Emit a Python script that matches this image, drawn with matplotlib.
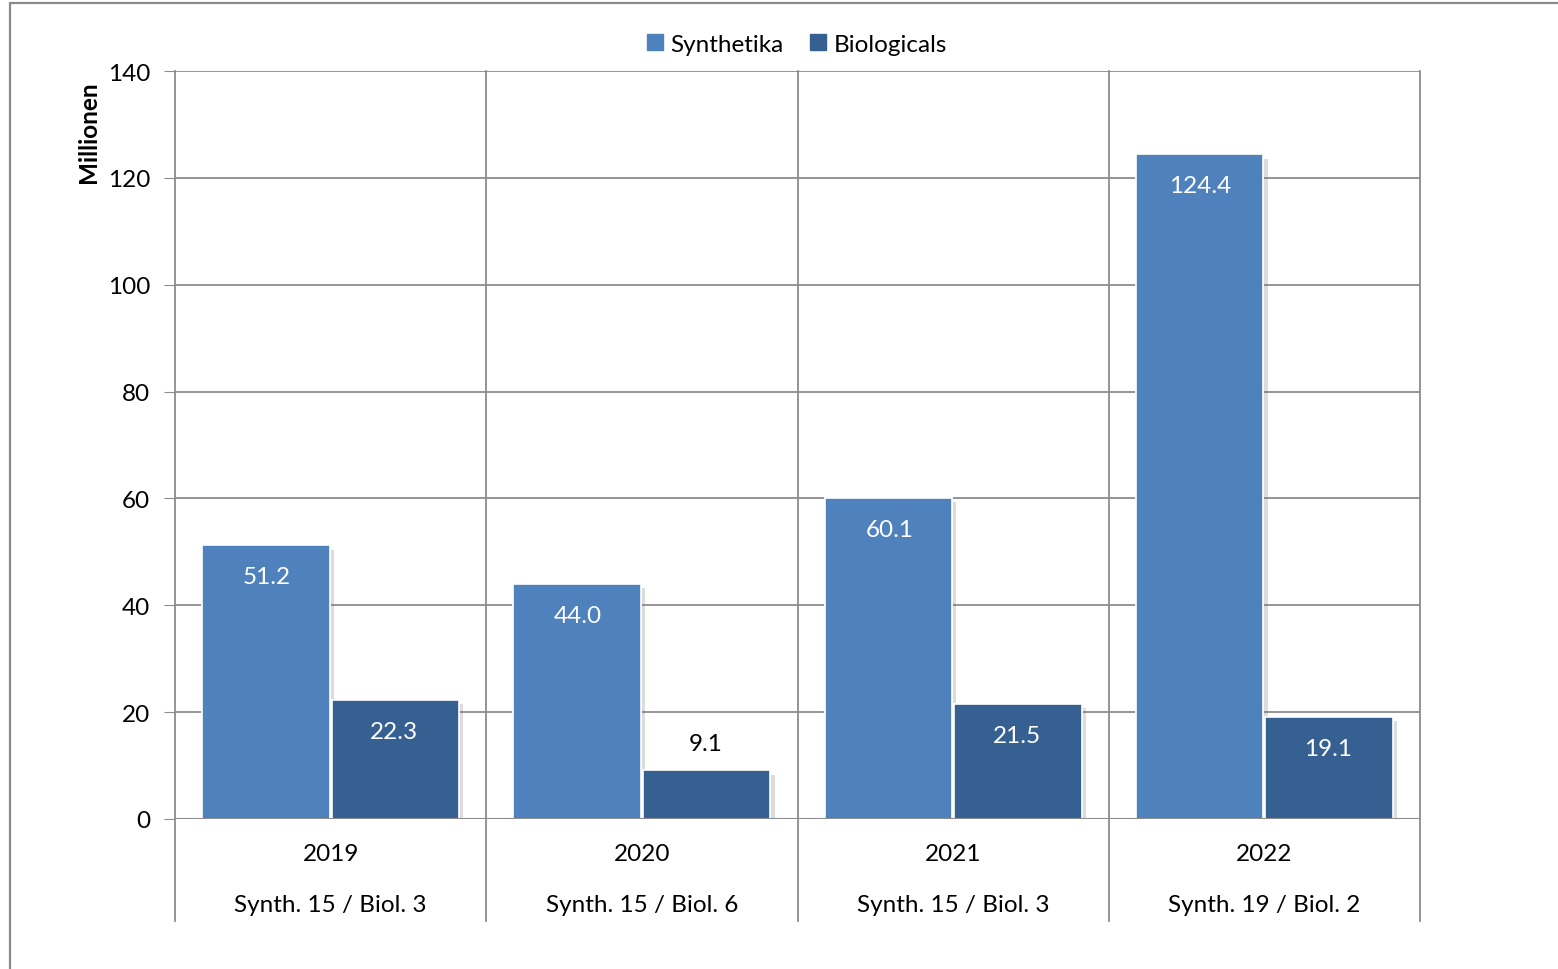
import numpy as np
import matplotlib.pyplot as plt
import matplotlib.patheffects as pe
from matplotlib.patches import Rectangle, Patch
import matplotlib.transforms as mtransforms

plt.rcParams['font.family'] = ['Lato', 'DejaVu Sans']

# Daten
years = ["2019", "2020", "2021", "2022"]
counts = ["Synth. 15 / Biol. 3", "Synth. 15 / Biol. 6",
          "Synth. 15 / Biol. 3", "Synth. 19 / Biol. 2"]
synthetika = [51.2, 44.0, 60.1, 124.4]
biologicals = [22.3, 9.1, 21.5, 19.1]

c_syn = "#4F81BD"
c_bio = "#366092"
grid_c = "#8C8C8C"
fs = 17.5

fig = plt.figure(figsize=(15.58, 9.70), dpi=100)
ax = fig.add_axes([175/1558, 1 - 820/970, (1420-175)/1558, (820-72)/970])

# Rahmen
fig.patches.append(Rectangle((10/1558, -0.05), 1.2, 1 - 4/970 + 0.05,
                             transform=fig.transFigure, fill=False,
                             edgecolor="#8A8A8A", linewidth=1.6))

x = np.arange(len(years)) + 0.5
w = 0.41
shadow = [pe.withSimplePatchShadow(offset=(3, -3), shadow_rgbFace="#777777", alpha=0.25),
          pe.Normal()]

b1 = ax.bar(x - w/2 - 0.003, synthetika, w, color=c_syn, edgecolor="white",
            linewidth=1.2, zorder=3)
b2 = ax.bar(x + w/2 + 0.003, biologicals, w, color=c_bio, edgecolor="white",
            linewidth=1.2, zorder=3)
for b in list(b1) + list(b2):
    b.set_path_effects(shadow)

# Beschriftungen
for xi, v in zip(x - w/2, synthetika):
    ax.text(xi, v - 5.9, f"{v:.1f}", ha="center", va="center", color="white",
            fontsize=fs, zorder=4)
for xi, v in zip(x + w/2, biologicals):
    if v < 15:
        ax.text(xi, v + 5.1, f"{v:.1f}", ha="center", va="center", color="black",
                fontsize=fs, zorder=4)
    else:
        ax.text(xi, v - 5.9, f"{v:.1f}", ha="center", va="center", color="white",
                fontsize=fs, zorder=4)

ax.set_xlim(0, 4)
ax.set_ylim(0, 140)
ax.set_yticks(np.arange(0, 141, 20))
ax.tick_params(axis="y", labelsize=fs, length=8, color=grid_c, pad=10)
ax.set_xticks([])
ax.yaxis.grid(True, color=grid_c, linewidth=1.3, zorder=0)
for s in ax.spines.values():
    s.set_visible(False)
ax.axhline(0, color=grid_c, linewidth=1.5, zorder=5)

# vertikale Linien, bis unter die Achse
trans = mtransforms.blended_transform_factory(ax.transData, ax.transAxes)
for xv in range(5):
    ax.plot([xv, xv], [-(922-820)/748, 1], color=grid_c, linewidth=1.3,
            transform=trans, clip_on=False, zorder=1)

for xi, yr, cnt in zip(x, years, counts):
    ax.text(xi, -(855-820)/748, yr, transform=trans, ha="center", va="center",
            fontsize=fs)
    ax.text(xi, -(906-820)/748, cnt, transform=trans, ha="center", va="center",
            fontsize=fs)

fig.text(88/1558, 1 - 132/970, "Millionen", rotation=90, ha="center", va="center",
         fontsize=fs, fontweight="bold")

handles = [Patch(color=c_syn, label="Synthetika"), Patch(color=c_bio, label="Biologicals")]
ax.legend(handles=handles, loc="center", bbox_to_anchor=(797/1558, 1 - 45/970),
          bbox_transform=fig.transFigure, ncol=2, frameon=False, fontsize=fs,
          handlelength=0.65, handleheight=0.65, handletextpad=0.3, columnspacing=1.1)

fig.savefig("out.png", dpi=100)
